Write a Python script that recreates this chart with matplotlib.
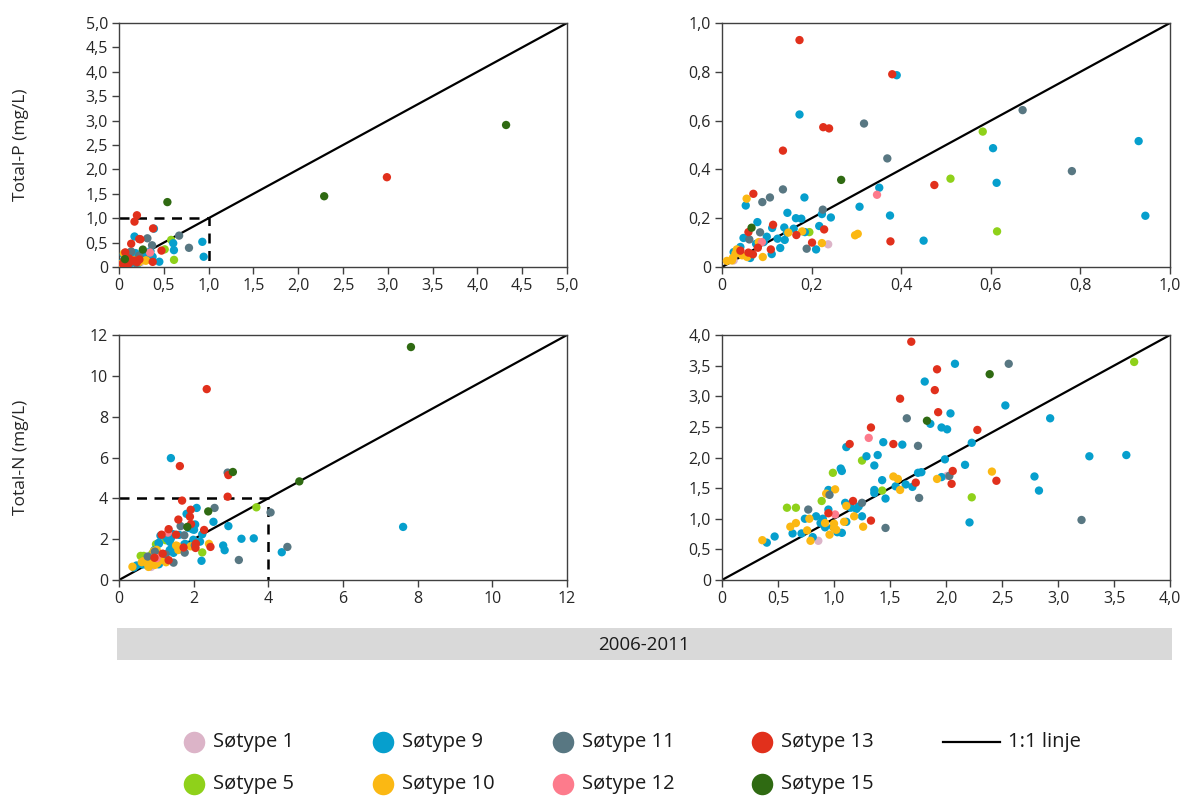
import matplotlib
matplotlib.use("Agg")
import numpy as np
import matplotlib.pyplot as plt
from matplotlib.lines import Line2D
from matplotlib.patches import Rectangle
from matplotlib.ticker import FuncFormatter

plt.rcParams['font.family'] = ['Open Sans', 'DejaVu Sans']

# ---------------- data: Total-P (x, y) per lake type ----------------
st1_p_x = [0.237, 0.026]
st1_p_y = [0.093, 0.027]
st5_p_x = [0.582, 0.510, 0.614, 0.195]
st5_p_y = [0.555, 0.362, 0.146, 0.143]
st9_p_x = [0.390, 0.173, 0.605, 0.930, 0.613, 0.945, 0.450, 0.351, 0.307, 0.375, 0.053, 0.184,
           0.146, 0.165, 0.177, 0.223, 0.243, 0.079, 0.112, 0.139, 0.160, 0.124, 0.140, 0.210,
           0.217, 0.100, 0.076, 0.063, 0.111, 0.041, 0.048, 0.145, 0.185, 0.130, 0.026, 0.093]
st9_p_y = [0.786, 0.625, 0.487, 0.516, 0.345, 0.210, 0.108, 0.325, 0.247, 0.211, 0.252, 0.285,
           0.222, 0.200, 0.198, 0.217, 0.203, 0.184, 0.160, 0.162, 0.157, 0.116, 0.111, 0.072,
           0.168, 0.124, 0.095, 0.037, 0.053, 0.082, 0.119, 0.141, 0.143, 0.078, 0.061, 0.102]
st10_p_x = [0.055, 0.297, 0.303, 0.223, 0.148, 0.179, 0.091, 0.011, 0.022, 0.030, 0.033, 0.045,
            0.056, 0.024, 0.082]
st10_p_y = [0.280, 0.130, 0.136, 0.098, 0.141, 0.146, 0.041, 0.025, 0.027, 0.055, 0.072, 0.048,
            0.041, 0.037, 0.102]
st11_p_x = [0.671, 0.781, 0.317, 0.369, 0.136, 0.107, 0.090, 0.225, 0.085, 0.189, 0.061]
st11_p_y = [0.643, 0.393, 0.588, 0.445, 0.318, 0.285, 0.266, 0.235, 0.142, 0.075, 0.113]
st12_p_x = [0.346, 0.089]
st12_p_y = [0.296, 0.102]
st13_p_x = [0.173, 0.380, 0.226, 0.239, 0.136, 0.070, 0.474, 0.114, 0.228, 0.166, 0.201, 0.376,
            0.059, 0.080, 0.069, 0.109, 0.041, 0.059, 0.200, 2.99]
st13_p_y = [0.930, 0.790, 0.573, 0.568, 0.477, 0.300, 0.336, 0.173, 0.154, 0.131, 0.100, 0.105,
            0.143, 0.079, 0.052, 0.072, 0.067, 0.059, 1.06, 1.84]
st15_p_x = [0.266, 0.066, 0.54, 2.29, 4.32]
st15_p_y = [0.357, 0.161, 1.33, 1.45, 2.91]

# ---------------- data: Total-N (x, y) per lake type ----------------
st1_n_x = [0.86, 2.01]
st1_n_y = [0.64, 1.70]
st5_n_x = [3.68, 1.25, 0.99, 1.43, 2.23, 0.89, 0.58, 0.66]
st5_n_y = [3.56, 1.95, 1.75, 1.46, 1.35, 1.29, 1.18, 1.18]
st9_n_x = [2.08, 1.81, 2.53, 2.04, 1.86, 1.96, 2.01, 2.93, 2.23, 1.44, 1.61, 1.11, 1.29, 1.39,
           1.36, 1.99, 2.17, 1.06, 1.07, 3.28, 3.61, 2.79, 2.83, 2.21, 1.43, 1.55, 1.64, 1.70,
           1.75, 1.78, 1.96, 1.36, 1.36, 1.46, 1.15, 1.22, 1.25, 1.20, 0.95, 0.95, 0.74, 0.84,
           0.90, 0.88, 0.92, 0.99, 1.03, 1.07, 1.11, 0.63, 0.71, 0.81, 0.40, 0.47, 1.10,
           1.39, 4.36, 7.61]
st9_n_y = [3.53, 3.24, 2.85, 2.72, 2.55, 2.49, 2.46, 2.64, 2.24, 2.25, 2.21, 2.17, 2.02, 2.04,
           1.87, 1.97, 1.88, 1.82, 1.78, 2.02, 2.04, 1.69, 1.46, 0.94, 1.63, 1.53, 1.56, 1.52,
           1.75, 1.76, 1.68, 1.47, 1.42, 1.33, 1.18, 1.20, 1.04, 1.16, 1.47, 1.15, 1.00, 1.04,
           1.00, 0.93, 0.86, 0.87, 0.78, 0.77, 0.95, 0.76, 0.76, 0.70, 0.61, 0.71, 1.26,
           5.97, 1.36, 2.60]
st10_n_x = [2.41, 1.92, 1.53, 1.57, 1.59, 1.01, 0.93, 1.11, 1.18, 1.09, 1.26, 0.78, 0.66, 0.61,
            0.76, 0.92, 1.00, 1.00, 1.02, 0.96, 0.79, 0.36]
st10_n_y = [1.77, 1.65, 1.69, 1.65, 1.47, 1.48, 1.41, 1.21, 1.04, 0.95, 0.87, 1.00, 0.93, 0.87,
            0.81, 0.93, 0.92, 0.85, 0.82, 0.74, 0.64, 0.65]
st11_n_x = [2.56, 1.65, 1.75, 2.03, 3.21, 1.76, 1.46, 0.96, 0.77, 1.25, 2.91, 4.06, 4.51]
st11_n_y = [3.53, 2.64, 2.19, 1.70, 0.98, 1.34, 0.85, 1.39, 1.15, 1.26, 5.26, 3.31, 1.62]
st12_n_x = [1.31, 1.01]
st12_n_y = [2.32, 1.07]
st13_n_x = [1.69, 1.92, 1.90, 1.59, 1.93, 2.28, 1.33, 1.14, 1.53, 2.06, 2.05, 2.45, 1.73, 1.17,
            1.33, 0.95, 2.35, 1.63, 2.93, 2.91]
st13_n_y = [3.89, 3.44, 3.10, 2.96, 2.74, 2.45, 2.49, 2.22, 2.22, 1.78, 1.57, 1.62, 1.59, 1.29,
            0.97, 1.09, 9.35, 5.58, 5.14, 4.08]
st15_n_x = [2.39, 1.83, 3.05, 4.83, 7.82]
st15_n_y = [3.36, 2.60, 5.29, 4.83, 11.41]

type_names = ['Søtype 1', 'Søtype 5', 'Søtype 9', 'Søtype 10', 'Søtype 11', 'Søtype 12',
              'Søtype 13', 'Søtype 15']
type_colors = ['#dcb4c8', '#8fd11a', '#069fcd', '#fbb813', '#587782', '#fd7b8c', '#e1301c',
               '#2f6a12']
p_x = [st1_p_x, st5_p_x, st9_p_x, st10_p_x, st11_p_x, st12_p_x, st13_p_x, st15_p_x]
p_y = [st1_p_y, st5_p_y, st9_p_y, st10_p_y, st11_p_y, st12_p_y, st13_p_y, st15_p_y]
n_x = [st1_n_x, st5_n_x, st9_n_x, st10_n_x, st11_n_x, st12_n_x, st13_n_x, st15_n_x]
n_y = [st1_n_y, st5_n_y, st9_n_y, st10_n_y, st11_n_y, st12_n_y, st13_n_y, st15_n_y]

period_label = '2006-2011'
line_label = '1:1 linje'

W, H = 1186, 796
fig = plt.figure(figsize=(W / 100, H / 100), dpi=100)


def fpx(x0, y0, x1, y1):
    return [x0 / W, 1 - y1 / H, (x1 - x0) / W, (y1 - y0) / H]


def fmt(v, pos):
    if abs(v) < 1e-9:
        return '0'
    return ('%.1f' % v).replace('.', ',')


def fmt_int(v, pos):
    return '%d' % round(v)


def panel(rect, xs, ys, lim, step, formatter, box=None, ylabel=None):
    ax = fig.add_axes(fpx(*rect))
    for x, y, c in zip(xs, ys, type_colors):
        ax.scatter(x, y, s=36, color=c, edgecolors='none', zorder=3)
    ax.plot([0, lim], [0, lim], color='black', lw=1.6, zorder=2)
    if box is not None:
        ax.plot([0, box, box], [box, box, 0], color='black', lw=1.8, ls=(0, (4, 3)), zorder=2)
    ax.set_xlim(0, lim)
    ax.set_ylim(0, lim)
    ticks = np.arange(0, lim + step / 2, step)
    ax.set_xticks(ticks)
    ax.set_yticks(ticks)
    ax.xaxis.set_major_formatter(FuncFormatter(formatter))
    ax.yaxis.set_major_formatter(FuncFormatter(formatter))
    ax.tick_params(direction='out', length=5, width=1, color='#404040', labelsize=11.5,
                   labelcolor='#262626', pad=3)
    for sp in ax.spines.values():
        sp.set_color('#404040')
        sp.set_linewidth(1)
    if ylabel:
        ax.set_ylabel(ylabel, fontsize=12.5, color='#262626')
        ax.yaxis.set_label_coords((29 - rect[0]) / (rect[2] - rect[0]), 0.5)
    return ax


panel((119, 23, 567, 267), p_x, p_y, 5.0, 0.5, fmt, box=1.0, ylabel='Total-P (mg/L)')
panel((722, 23, 1170, 267), p_x, p_y, 1.0, 0.2, fmt)
panel((119, 335, 567, 580), n_x, n_y, 12, 2, fmt_int, box=4, ylabel='Total-N (mg/L)')
panel((722, 335, 1170, 580), n_x, n_y, 4.0, 0.5, fmt)

# period bar
fig.add_artist(Rectangle((117 / W, 1 - 660 / H), 1055 / W, 32 / H, transform=fig.transFigure,
                         facecolor='#d9d9d9', edgecolor='none'))
fig.text(644 / W, 1 - 645 / H, period_label, ha='center', va='center', fontsize=13.5,
         color='#1a1a1a')

# legend (manual layout)
leg_marker_x = [194, 194, 383, 383, 563, 563, 762, 762]
leg_row_y = [742, 784, 742, 784, 742, 784, 742, 784]
for name, c, mx, my in zip(type_names, type_colors, leg_marker_x, leg_row_y):
    fig.add_artist(Line2D([mx / W], [1 - my / H], marker='o', markersize=15.5, color=c,
                          markeredgecolor='none', linestyle='none', transform=fig.transFigure))
    fig.text((mx + 19) / W, 1 - my / H, name, ha='left', va='center', fontsize=14.5,
             color='#1a1a1a')
fig.add_artist(Line2D([943 / W, 1000 / W], [1 - 742 / H, 1 - 742 / H], color='black', lw=1.6,
                      transform=fig.transFigure))
fig.text(1008 / W, 1 - 742 / H, line_label, ha='left', va='center', fontsize=14.5,
         color='#1a1a1a')

fig.savefig('out.png', dpi=100)
